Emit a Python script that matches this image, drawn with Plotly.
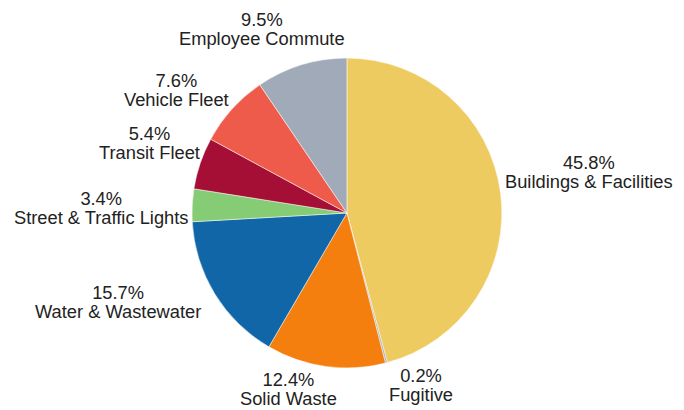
import math
import plotly.graph_objects as go

categories = ["Buildings & Facilities", "Fugitive", "Solid Waste", "Water & Wastewater",
              "Street & Traffic Lights", "Transit Fleet", "Vehicle Fleet", "Employee Commute"]
values = [45.8, 0.2, 12.4, 15.7, 3.4, 5.4, 7.6, 9.5]
colors = ["#EECB61", "#A7B0BC", "#F57F0E", "#1066A6", "#85CC74", "#A50E35", "#EE5B4B", "#A0AAB8"]

W, H = 684, 410
dom_x = [0.269, 0.722]
dom_y = [0.122, 0.878]

# label placement (xanchor, xshift px, yshift px); blocks are vertically centred -- layout only
label_layout = [("left", 2, 20.5), ("left", 1, -22.5), ("center", -37, -23),
                ("right", -12, -8), ("right", -2, -3), ("right", 2, 20),
                ("right", -1, 19.5), ("right", 46, 35.5)]

fig = go.Figure(go.Pie(
    labels=categories,
    values=values,
    sort=False,
    direction="clockwise",
    rotation=0,
    marker=dict(colors=colors, line=dict(color="white", width=0.5)),
    textinfo="none",
    hoverinfo="label+percent",
    showlegend=False,
    domain=dict(x=dom_x, y=dom_y),
))

# pie geometry in paper coords
cx = sum(dom_x) / 2
cy = sum(dom_y) / 2
r_px = min((dom_x[1] - dom_x[0]) * W, (dom_y[1] - dom_y[0]) * H) / 2
total = sum(values)
cum = 0.0
annotations = []
for lab, v, (xa, xs, ys) in zip(categories, values, label_layout):
    mid = (cum + v / 2) / total * 2 * math.pi
    cum += v
    x = cx + r_px * math.sin(mid) / W
    y = cy + r_px * math.cos(mid) / H
    pct = f"{v / total * 100:.1f}%"
    annotations.append(dict(
        x=x, y=y, xref="paper", yref="paper",
        text=f'<span style="font-size:18.3px">{pct}</span><br>'
             f'<span style="font-size:18.3px">{lab}</span>',
        showarrow=False, xanchor=xa, yanchor="middle", xshift=xs, yshift=ys,
        align="center",
        font=dict(family="Liberation Sans, Arial, sans-serif", size=14.6, color="#222222"),
    ))

fig.update_layout(
    width=W, height=H,
    margin=dict(l=0, r=0, t=0, b=0),
    paper_bgcolor="white",
    plot_bgcolor="white",
    annotations=annotations,
)

fig.write_html("out.html")
